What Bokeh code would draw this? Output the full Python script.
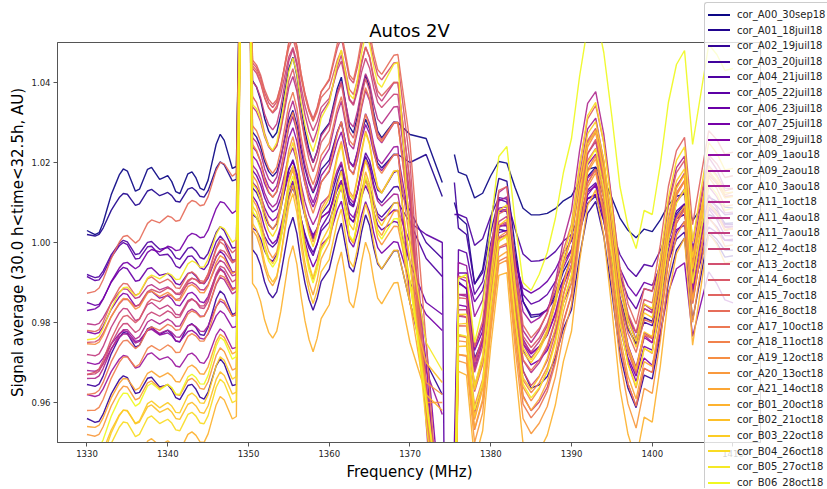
import numpy as np
from bokeh.plotting import figure
from bokeh.layouts import row
from bokeh.models import Range1d, FixedTicker, PrintfTickFormatter, Div
from bokeh.palettes import plasma
from bokeh.embed import file_html
from bokeh.resources import INLINE

names = ["cor_A00_30sep18", "cor_A01_18juil18", "cor_A02_19juil18", "cor_A03_20juil18",
         "cor_A04_21juil18", "cor_A05_22juil18", "cor_A06_23juil18", "cor_A07_25juil18",
         "cor_A08_29juil18", "cor_A09_1aou18", "cor_A09_2aou18", "cor_A10_3aou18",
         "cor_A11_1oct18", "cor_A11_4aou18", "cor_A11_7aou18", "cor_A12_4oct18",
         "cor_A13_2oct18", "cor_A14_6oct18", "cor_A15_7oct18", "cor_A16_8oct18",
         "cor_A17_10oct18", "cor_A18_11oct18", "cor_A19_12oct18", "cor_A20_13oct18",
         "cor_A21_14oct18", "cor_B01_20oct18", "cor_B02_21oct18", "cor_B03_22oct18",
         "cor_B04_26oct18", "cor_B05_27oct18", "cor_B06_28oct18"]

x_ticks = [1330, 1340, 1350, 1360, 1370, 1380, 1390, 1400, 1410]
y_ticks = [0.96, 0.98, 1.00, 1.02, 1.04]

# shared ripple (units of 1e-3), per band
left_freq = list(np.arange(1330.0, 1348.51, 0.5))
left_wig = [0, -0.5, -1, -1, 0, 1.5, 3, 4, 5, 5.5, 5, 3.5, 2, 2, 3, 4, 4, 3, 2, 2, 2, 1, -0.5,
            -1, 0, 1, 1, 0, -1.5, -2, -1, 1, 3, 4, 3, 1, -1, -1]
mid_freq = list(np.arange(1350.5, 1368.51, 0.5))
mid_wig = [3, 2, 0, -3, -5, -6, -5, -2, 2, 6, 8, 5, 0, -4, -7, -9, -7, -4, -3, -2, 1, 4, 6, 2,
           -2, -3, 0, 4, 7, 5, 1, -2, -3, -2, -1, 0, 0]
right_freq = list(np.arange(1376.0, 1410.01, 1.0))
right_wig = [4, 3, -10, -6, 6, 16, 16, 2, -10, -13, -12, -10, -6, 0, 4, 14, 22, 24, 17, 6,
             -6, -13, -17, -11, -12, -4, 6, 12, 14, -2, 6, 14, 12, 9, 9]
spike_freq = [1349.2, 1350.0]
spike_val = [1.1, 1.1]
drop_freq = [1370.0, 1372.0, 1374.0]

# per-series levels
left_start = [1.003, 1.002, 0.956, 0.9645, 0.992, 0.9915, 0.985, 0.983, 0.9777, 0.970, 0.962,
              0.968, 0.966, 0.9797, 0.972, 0.967, 0.975, 0.967, 0.978, 0.9873, 0.962, 0.958,
              0.9747, 0.952, 0.954, 0.935, 0.946, 0.944, 0.942, 0.9757, 0.948]
left_end = [1.021, 1.017, 0.966, 0.984, 1.000, 0.997, 0.994, 1.009, 0.990, 0.980, 0.975, 0.983,
            0.989, 0.993, 0.990, 0.992, 0.9965, 0.9995, 0.997, 1.0186, 0.990, 0.9835, 0.994,
            0.970, 0.974, 0.958, 0.964, 0.968, 0.962, 1.002, 0.973]
left_amp = [2.0, 1.2, 1.5, 1.5, 1.2, 1.3, 1.2, 1.0, 1.2, 1.0, 1.2, 1.0, 1.2, 1.0, 1.3, 1.2, 1.0,
            1.2, 1.3, 1.2, 1.2, 1.3, 1.2, 1.4, 1.3, 1.5, 1.4, 1.5, 1.5, 1.2, 1.5]
mid_start = [1.036, 1.024, 0.994, 1.010, 1.004, 1.000, 1.015, 1.008, 1.012, 1.018, 1.020, 1.016,
             1.022, 1.030, 1.036, 1.040, 1.041, 1.032, 1.042, 1.040, 1.025, 1.020, 1.012, 1.006,
             0.998, 0.985, 1.000, 1.004, 1.010, 1.030, 1.003]
mid_end = [1.030, 1.022, 0.998, 1.014, 1.010, 1.018, 1.005, 1.000, 1.008, 1.022, 1.024, 1.012,
           1.030, 1.034, 1.040, 1.037, 1.045, 1.030, 1.040, 1.047, 1.030, 1.022, 1.018, 1.004,
           1.008, 0.990, 0.998, 1.010, 1.018, 1.045, 1.006]
mid_amp = [1.5, 1.2, 1.4, 1.2, 1.0, 1.2, 1.0, 1.2, 1.0, 1.2, 1.3, 1.1, 1.4, 1.3, 1.4, 1.2, 1.3,
           1.5, 1.2, 1.4, 1.4, 1.5, 1.6, 1.6, 1.7, 1.6, 1.6, 1.7, 1.6, 1.5, 1.6]
drop_1370 = [1.027, 1.020, 0.985, 1.008, 1.005, 1.005, 0.995, 0.990, 1.000, 1.005, 0.985, 0.995,
             1.010, 1.012, 1.015, 1.010, 1.020, 1.005, 1.015, 1.025, 1.005, 1.000, 0.995, 0.990,
             0.985, 0.975, 0.985, 0.990, 0.995, 1.000, 0.990]
drop_1372 = [1.026, 1.022, 0.970, 1.000, 0.996, 1.002, 0.985, 0.982, 0.975, 0.970, 0.968, 0.965,
             0.960, 0.955, 0.958, 0.962, 0.965, 0.958, 0.960, 0.975, 0.962, 0.958, 0.960, 0.965,
             0.960, 0.962, 0.970, 0.962, 0.955, 0.975, 0.960]
drop_1374 = [1.015, 1.0115, 0.962, 0.996, 0.9915, 1.000, 0.982, 0.978, 0.93, 0.92, 0.957, 0.93,
             0.90, 0.90, 0.90, 0.91, 0.90, 0.92, 0.90, 0.92, 0.91, 0.92, 0.960, 0.962, 0.93,
             0.958, 0.965, 0.93, 0.92, 0.968, 0.93]
has_gap = [1, 1, 1, 1, 1, 0, 1, 1, 1, 1, 1, 1, 1, 1, 1, 1, 1, 1, 1, 1, 1, 1, 1, 1, 1, 1, 1, 1, 1, 1, 1]
right_first = [1.022, 1.010, 0.930, 1.015, 1.007, 0.900, 0.950, 0.940, 0.930, 0.930, 0.935, 0.930,
               0.920, 0.920, 0.920, 0.920, 0.920, 0.920, 0.930, 0.920, 0.920, 0.920, 0.920, 0.920,
               0.920, 0.920, 0.920, 0.920, 0.920, 0.920, 0.930]
right_1376 = [1.016, 1.002, 0.985, 1.000, 1.005, 0.995, 0.990, 0.985, 0.980, 0.986, 0.991, 0.981,
              0.981, 0.976, 0.978, 0.971, 0.976, 0.981, 0.986, 0.974, 0.966, 0.971, 0.969, 0.964,
              0.966, 0.961, 0.968, 0.974, 0.976, 0.971, 0.985]
right_1390 = [1.010, 0.992, 0.978, 0.990, 1.000, 0.995, 0.998, 0.985, 0.990, 0.991, 0.994, 0.996,
              1.002, 0.991, 0.996, 0.981, 0.988, 0.996, 0.999, 0.991, 0.981, 0.986, 0.988, 0.978,
              0.984, 0.971, 0.991, 0.996, 0.998, 0.986, 1.020]
right_1410 = [1.005, 0.995, 0.985, 0.990, 1.000, 1.000, 0.995, 0.990, 0.975, 0.990, 0.995, 0.990,
              1.000, 0.995, 1.000, 0.990, 1.000, 1.005, 1.010, 1.000, 0.990, 1.000, 0.995, 0.985,
              0.990, 0.980, 0.998, 1.000, 1.005, 0.995, 1.030]
right_amp = [0.4, 1.1, 1.3, 0.9, 0.5, 0.8, 0.6, 1.2, 1.1, 1.3, 1.0, 1.5, 1.5, 1.4, 1.3, 1.5, 1.5,
             1.3, 1.4, 1.3, 1.5, 1.4, 1.6, 1.6, 1.5, 1.7, 1.5, 1.4, 1.5, 1.5, 1.5]


def build(i):
    fl = np.array(left_freq)
    tl = (fl - fl[0]) / (fl[-1] - fl[0])
    yl = left_start[i] + (left_end[i] - left_start[i]) * tl + left_amp[i] * np.array(left_wig) / 1000
    fm = np.array(mid_freq)
    tm = (fm - fm[0]) / (fm[-1] - fm[0])
    ym = mid_start[i] + (mid_end[i] - mid_start[i]) * tm + mid_amp[i] * np.array(mid_wig) / 1000
    fr = np.array(right_freq)
    trend = np.interp(fr, [1376, 1390, 1410], [right_1376[i], right_1390[i], right_1410[i]])
    yr = trend + right_amp[i] * np.array(right_wig) / 1000
    xs = list(fl) + spike_freq + list(fm) + drop_freq
    ys = list(yl) + spike_val + list(ym) + [drop_1370[i], drop_1372[i], drop_1374[i]]
    if has_gap[i]:
        xs.append(1374.7)
        ys.append(float("nan"))
    else:
        xs.append(1374.4)
        ys.append(0.90)
    xs += [1375.5] + list(fr)
    ys += [right_first[i]] + list(yr)
    return xs, ys


colors = plasma(31)

p = figure(width=761, height=489, output_backend="svg", toolbar_location=None,
           x_range=Range1d(1326.35, 1413.53), y_range=Range1d(0.95, 1.05),
           min_border_left=57, min_border_right=0, min_border_top=42, min_border_bottom=47,
           title="Autos 2V")
p.title.align = "center"
p.title.text_font = "DejaVu Sans"
p.title.text_font_size = "18px"
p.title.text_font_style = "normal"
p.title.text_color = "black"
p.title.standoff = 4
p.xgrid.visible = False
p.ygrid.visible = False
p.outline_line_color = "#555555"
p.background_fill_color = "white"
p.border_fill_color = "white"

for ax in (p.xaxis[0], p.yaxis[0]):
    ax.axis_line_color = "#555555"
    ax.major_tick_line_color = "#555555"
    ax.major_tick_out = 4
    ax.major_tick_in = 0
    ax.minor_tick_line_color = None
    ax.major_label_text_font = "DejaVu Sans"
    ax.major_label_text_font_size = "8.5px"
    ax.major_label_text_color = "#222222"
    ax.major_label_standoff = 3
    ax.axis_label_text_font = "DejaVu Sans"
    ax.axis_label_text_font_size = "15px"
    ax.axis_label_text_font_style = "normal"
    ax.axis_label_text_color = "black"

p.xaxis.ticker = FixedTicker(ticks=x_ticks)
p.yaxis.ticker = FixedTicker(ticks=y_ticks)
p.yaxis.formatter = PrintfTickFormatter(format="%.2f")
p.xaxis.axis_label = "Frequency (MHz)"
p.yaxis.axis_label = "Signal average (30.0 h<time<32.5h, AU)"
p.xaxis.axis_label_standoff = 3
p.yaxis.axis_label_standoff = 2

for i in range(31):
    xs, ys = build(i)
    p.line(xs, ys, line_color=colors[i], line_width=1.4, line_alpha=0.92)

# legend box, semi-transparent, overlapping the right end of the axes like the original
rows_html = "".join(
    '<div style="height:15.6px;display:flex;align-items:center;white-space:nowrap;">'
    '<span style="display:inline-block;width:22px;height:2px;background:%s;'
    'margin:0 7px 0 3px;flex:none;"></span><span>%s</span></div>' % (c, n)
    for n, c in zip(names, colors))
legend_html = (
    '<div style="position:relative;width:66px;height:489px;overflow:visible;'
    'font-family:\'DejaVu Sans\';font-size:10px;line-height:15.6px;color:#222222;">'
    '<div style="position:absolute;left:-57px;top:2px;width:123px;height:486px;overflow:hidden;'
    'box-sizing:border-box;padding:4px 0;border:1px solid #cccccc;border-right:none;'
    'border-bottom:none;border-radius:3px 0 0 0;background:rgba(255,255,255,0.8);z-index:10;">'
    + rows_html + '</div></div>')
legend_div = Div(text=legend_html, width=66, height=489, margin=0)

layout = row(p, legend_div, spacing=0)
open("out.html", "w").write(file_html(layout, INLINE))
